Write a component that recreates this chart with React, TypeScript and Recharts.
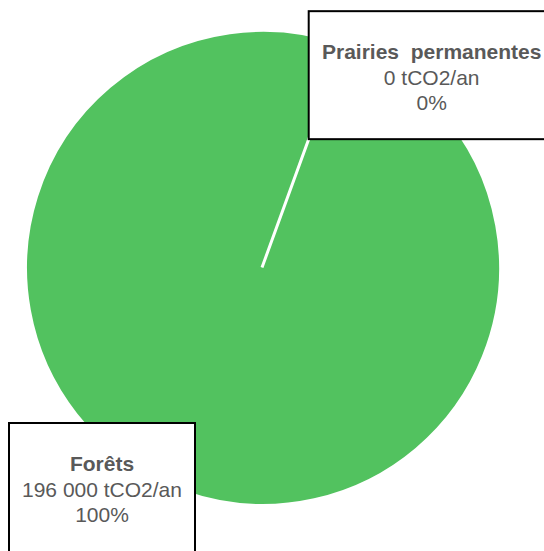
import React from 'react';
import { PieChart, Pie, Cell } from 'recharts';

const categories = ['Forêts', 'Prairies  permanentes'];
const values = [196000, 0];
const valueLabels = ['196 000 tCO2/an', '0 tCO2/an'];
const percentLabels = ['100%', '0%'];
const colors = ['#52C25F', '#52C25F'];

const data = categories.map((name, i) => ({ name, value: values[i] }));

const TEXT = '#595959';
const FONT = 'Liberation Sans, Arial, sans-serif';

const renderLabel = (props: any) => {
  const { cx, cy, midAngle, outerRadius, index } = props;
  const RAD = Math.PI / 180;
  let bx: number, by: number, bw: number, bh: number;
  if (index === 1) {
    const ar = outerRadius * 0.575;
    const ax = cx + ar * Math.cos(-midAngle * RAD);
    const ay = cy + ar * Math.sin(-midAngle * RAD);
    bx = ax;
    by = ay - 128;
    bw = 246;
    bh = 128;
  } else {
    bx = cx - 253;
    by = cy + 155.5;
    bw = 186;
    bh = 140;
  }
  const tx = bx + bw / 2;
  return (
    <g key={`lbl-${index}`}>
      <rect x={bx} y={by} width={bw} height={bh} fill="#ffffff" stroke="#000000" strokeWidth={2} />
      <text x={tx} y={by + 40.5} textAnchor="middle" dominantBaseline="central" fill={TEXT} fontFamily={FONT} fontSize={21} fontWeight="bold" style={{ whiteSpace: 'pre' }}>
        {categories[index]}
      </text>
      <text x={tx} y={by + 66} textAnchor="middle" dominantBaseline="central" fill={TEXT} fontFamily={FONT} fontSize={21}>
        {valueLabels[index]}
      </text>
      <text x={tx} y={by + 91.5} textAnchor="middle" dominantBaseline="central" fill={TEXT} fontFamily={FONT} fontSize={21}>
        {percentLabels[index]}
      </text>
    </g>
  );
};

export default function App() {
  return (
    <div style={{ position: 'absolute', left: 0, top: 0, width: 544, height: 551, background: '#fff', overflow: 'hidden' }}>
      <PieChart width={544} height={551} margin={{ top: 0, right: 0, bottom: 0, left: 0 }}>
        <Pie
          data={data}
          dataKey="value"
          nameKey="name"
          cx={262}
          cy={267.5}
          outerRadius={237.5}
          startAngle={70}
          endAngle={-290}
          stroke="#ffffff"
          strokeWidth={3}
          label={renderLabel}
          labelLine={false}
          isAnimationActive={false}
        >
          {data.map((d, i) => (
            <Cell key={d.name} fill={colors[i]} />
          ))}
        </Pie>
      </PieChart>
    </div>
  );
}
